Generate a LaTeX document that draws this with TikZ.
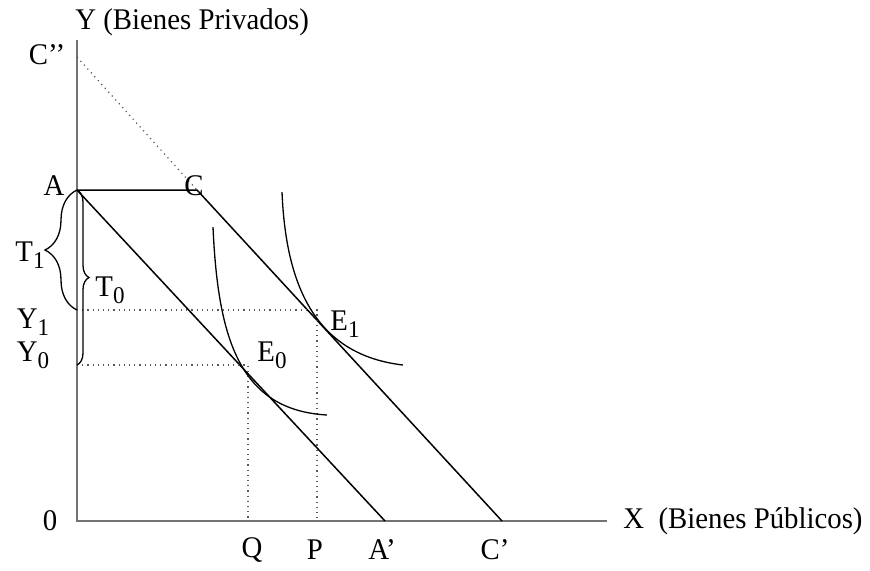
\documentclass[tikz,border=0pt]{standalone}
\usepackage{fontspec}
\setmainfont{Liberation Serif}[FakeStretch=0.96]
\usetikzlibrary{decorations.pathreplacing}
\newcommand{\lowidx}[1]{\raisebox{-0.5ex}{\fontsize{12}{12}\selectfont #1}}

\begin{document}
\begin{tikzpicture}[x=0.5pt,y=-0.5pt,font=\fontsize{15}{18}\selectfont,
    axis/.style={line width=1.1pt,black!55},
    budget/.style={line width=0.75pt},
    guide/.style={dotted,line width=0.6pt,black!65},
    icurve/.style={line width=0.65pt},
    lbl/.style={inner sep=1pt}]
  \useasboundingbox (0,0) rectangle (870,570);
  \coordinate (O) at (77,521);
  \coordinate (ytop) at (77,40);
  \coordinate (xend) at (607,521);
  \coordinate (Cpp) at (77,57);
  \coordinate (A) at (77,190);
  \coordinate (C) at (197,190);
  \coordinate (Ap) at (385,521);
  \coordinate (Cp) at (502,521);
  \coordinate (y1) at (77,310);
  \coordinate (y0) at (77,365);
  \coordinate (e1) at (317,310);
  \coordinate (e0) at (248,365);
  \coordinate (p) at (317,521);
  \coordinate (q) at (248,521);

  \draw[axis] (ytop) -- (O) -- (xend);
  \draw[guide] (Cpp) -- (C);
  \draw[budget] (A) -- (C) -- (Cp);
  \draw[budget] (A) -- (Ap);
  \draw[guide] (y1) -- (e1) -- (p);
  \draw[guide] (y0) -- (e0) -- (q);
  \draw[icurve] (282,192) .. controls (286,290) and (318,355) .. (403,365);
  \draw[icurve] (213,227) .. controls (218,340) and (240,410) .. (327,415);
  \draw[icurve,decorate,decoration={brace,amplitude=16pt}] (y1) -- (A);
  \draw[icurve,decorate,decoration={brace,amplitude=6pt}] (A) -- (y0);

  \node[lbl,anchor=west] (ylab) at (73,22) {Y (Bienes Privados)};
  \node[lbl,anchor=west] (xlab) at (621,521) {X~~(Bienes Públicos)};
  \node[lbl] (olab) at (50,521) {0};
  \node[lbl] (cpplab) at (47,55) {C’’};
  \node[lbl] (alab) at (54,186) {A};
  \node[lbl] (clab) at (194,186) {C};
  \node[lbl] (t1lab) at (30,255) {T\lowidx{1}};
  \node[lbl] (t0lab) at (110,290) {T\lowidx{0}};
  \node[lbl] (y1lab) at (33,322) {Y\lowidx{1}};
  \node[lbl] (y0lab) at (33,355) {Y\lowidx{0}};
  \node[lbl] (e1lab) at (345,324) {E\lowidx{1}};
  \node[lbl] (e0lab) at (272,355) {E\lowidx{0}};
  \node[lbl] (qlab) at (252,550) {Q};
  \node[lbl] (plab) at (315,550) {P};
  \node[lbl] (aplab) at (382,550) {A’};
  \node[lbl] (cplab) at (495,550) {C’};
\end{tikzpicture}
\end{document}
